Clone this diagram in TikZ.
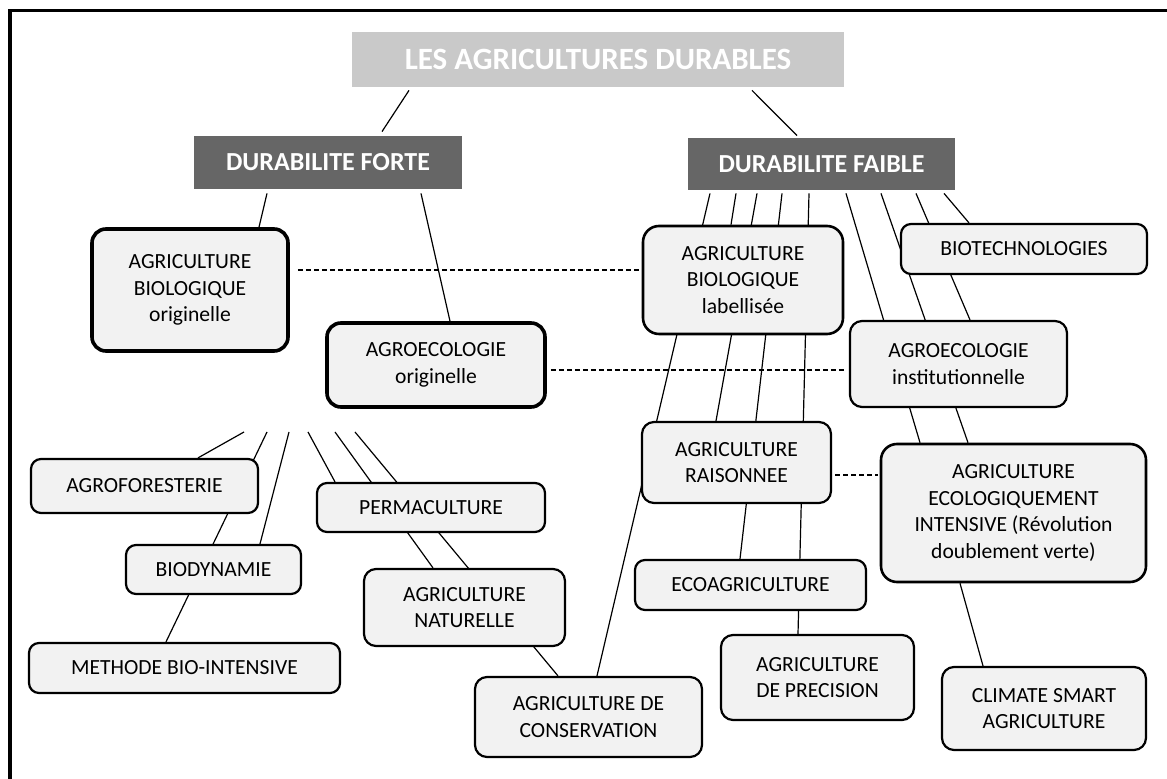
\documentclass[tikz,border=0pt]{standalone}
\usepackage{fontspec}
\setmainfont{Carlito}
\usetikzlibrary{calc,backgrounds}

\definecolor{boxgray}{HTML}{F2F2F2}
\definecolor{titlegray}{HTML}{C9C9C9}
\definecolor{durgray}{HTML}{666666}

\tikzset{
  box/.style={draw=black, line width=1.1pt, fill=boxgray, rounded corners=5pt, align=center, inner sep=0pt, font=\fontsize{10.8}{13.3}\selectfont},
  bigbox/.style={box, line width=1.3pt, rounded corners=8pt},
  origbox/.style={box, line width=1.8pt, rounded corners=7pt},
  headbox/.style={fill=durgray, text=white, inner sep=0pt, font=\bfseries\fontsize{13}{15}\selectfont},
  link/.style={line width=0.6pt},
  equiv/.style={line width=0.6pt, dash pattern=on 2.5pt off 1.5pt}
}

\begin{document}
\begin{tikzpicture}[x=0.5pt, y=-0.5pt]
         \useasboundingbox (0,0) rectangle (1167,779);
         \draw[line width=1.7pt] (1167,10.5) -| (10,779);

         \node[fill=titlegray, text=white, inner sep=0pt, minimum width=246pt, minimum height=27.5pt, font=\bfseries\fontsize{15.5}{18}\selectfont] (title) at (598,59.5) {LES AGRICULTURES DURABLES};
         \node[headbox, minimum width=134pt, minimum height=26.5pt] (forte) at (328,162.5) {DURABILITE FORTE};
         \node[headbox, minimum width=133.5pt, minimum height=26pt] (faible) at (821.5,164) {DURABILITE FAIBLE};

         \node[origbox, minimum width=98pt, minimum height=61pt] (bioorig) at (190,290) {AGRICULTURE\\BIOLOGIQUE\\originelle};
         \node[origbox, minimum width=109pt, minimum height=42pt] (agroorig) at (436,365) {AGROECOLOGIE\\originelle};

         \node[bigbox, minimum width=100pt, minimum height=54pt] (biolab) at (743,280) {AGRICULTURE\\BIOLOGIQUE\\labellisée};
         \node[box, minimum width=123pt, minimum height=25pt] (biotech) at (1024,249) {BIOTECHNOLOGIES};
         \node[box, rounded corners=6pt, minimum width=108.5pt, minimum height=43pt] (agroinst) at (958.5,364) {AGROECOLOGIE\\institutionnelle};
         \node[box, rounded corners=6pt, minimum width=94.5pt, minimum height=40.5pt] (raison) at (736.5,462.5) {AGRICULTURE\\RAISONNEE};
         \node[bigbox, minimum width=132.5pt, minimum height=69pt] (aei) at (1013.5,513) {AGRICULTURE\\ECOLOGIQUEMENT\\INTENSIVE (Révolution\\doublement verte)};
         \node[box, minimum width=115.5pt, minimum height=25pt] (ecoagri) at (750.5,585) {ECOAGRICULTURE};
         \node[box, rounded corners=6pt, minimum width=96.5pt, minimum height=42.5pt] (precis) at (817.5,677.5) {AGRICULTURE\\DE PRECISION};
         \node[box, rounded corners=6pt, minimum width=102pt, minimum height=41.5pt] (climate) at (1044,708.5) {CLIMATE SMART\\AGRICULTURE};
         \node[box, rounded corners=6pt, minimum width=113.5pt, minimum height=40pt] (conserv) at (588.5,717) {AGRICULTURE DE\\CONSERVATION};

         \node[box, minimum width=113.5pt, minimum height=27pt] (agrofor) at (144.5,486) {AGROFORESTERIE};
         \node[box, minimum width=114pt, minimum height=24.5pt] (perma) at (431,507.5) {PERMACULTURE};
         \node[box, minimum width=87.5pt, minimum height=24.5pt] (biodyn) at (213.5,569.5) {BIODYNAMIE};
         \node[box, rounded corners=6pt, minimum width=100.5pt, minimum height=38.5pt] (natur) at (464.5,607.5) {AGRICULTURE\\NATURELLE};
         \node[box, minimum width=155.5pt, minimum height=25pt] (methode) at (184.5,668) {METHODE BIO-INTENSIVE};

         \coordinate (fan1) at (244,432);
         \coordinate (fan2) at (267,432);
         \coordinate (fan3) at (289,432);
         \coordinate (fan4) at (308,432);
         \coordinate (fan5) at (335,432);
         \coordinate (fan6) at (355,432);

         \begin{scope}[on background layer]
         \draw[link] ($(title.south)+(-189,3)$) -- ($(forte.north)+(54,-4)$);
         \draw[link] ($(title.south)+(154,3)$) -- ($(faible.north)+(-24.5,-2)$);

         \draw[link] ($(forte.south)+(-61,4)$) -- ($(bioorig.north)+(69,0)$);
         \draw[link] ($(forte.south)+(93,4)$) -- ($(agroorig.north)+(14,0)$);

         \draw[link] ($(faible.south)+(-111.5,3)$) -- ($(conserv.north)+(8.5,0)$);
         \draw[link] ($(faible.south)+(-85.5,3)$) -- ($(biolab.north)+(-12,0)$);
         \draw[link] ($(faible.south)+(-64.5,3)$) -- ($(raison.north)+(-20.5,0)$);
         \draw[link] ($(faible.south)+(-39.5,3)$) -- ($(ecoagri.north)+(-10.5,0)$);
         \draw[link] ($(faible.south)+(-12.5,3)$) -- ($(precis.north)+(-19.5,0)$);
         \draw[link] ($(faible.south)+(24.5,3)$) -- ($(aei.north)+(-93.5,0)$);
         \draw[link] ($(faible.south)+(59.5,3)$) -- ($(aei.north)+(-45.5,0)$);
         \draw[link] ($(faible.south)+(94.5,3)$) -- ($(agroinst.north)+(11.5,0)$);
         \draw[link] ($(faible.south)+(122.5,3)$) -- ($(biotech.north)+(-55,0)$);

         \draw[link] ($(aei.south)+(-53.5,0)$) -- ($(climate.north)+(-61,0)$);

         \draw[link] (fan1) -- ($(agrofor.north)+(53.5,0)$);
         \draw[link] (fan2) -- ($(methode.north)+(-18.5,0)$);
         \draw[link] (fan3) -- ($(biodyn.north)+(46.5,0)$);
         \draw[link] (fan4) -- ($(perma.north)+(-96,0)$);
         \draw[link] (fan5) -- ($(natur.north)+(-31.5,0)$);
         \draw[link] (fan6) -- ($(conserv.north)+(-30.5,0)$);
         \end{scope}

         \draw[equiv] ($(bioorig.east)+(8,-20)$) -- ($(biolab.west)+(-2,-10)$);
         \draw[equiv] ($(agroorig.east)+(4,5)$) -- ($(agroinst.west)+(-3,6)$);
         \draw[equiv] ($(raison.east)+(3,12.5)$) -- ($(aei.west)+(-2,-38)$);

    \end{tikzpicture}
\end{document}
